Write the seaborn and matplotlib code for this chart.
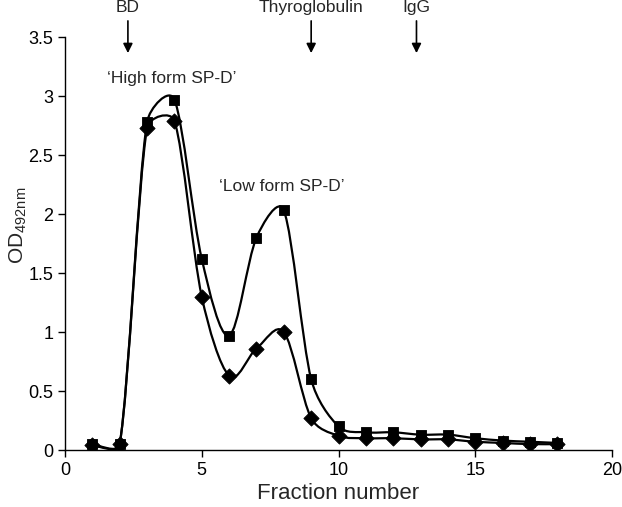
import numpy as np
import pandas as pd
import matplotlib
matplotlib.use('Agg')
import matplotlib.pyplot as plt
import seaborn as sns
from matplotlib.path import Path
from matplotlib.patches import PathPatch

# Fractions and OD readings
fractions = [1, 2, 3, 4, 5, 6, 7, 8, 9, 10, 11, 12, 13, 14, 15, 16, 17, 18]
od_square = [0.05, 0.05, 2.78, 2.97, 1.62, 0.97, 1.80, 2.03, 0.60, 0.20,
             0.15, 0.15, 0.13, 0.13, 0.10, 0.08, 0.07, 0.06]
od_diamond = [0.04, 0.05, 2.73, 2.79, 1.30, 0.63, 0.86, 1.00, 0.27, 0.12,
              0.10, 0.10, 0.09, 0.09, 0.07, 0.06, 0.05, 0.05]

# Size markers (fraction positions)
marker_names = ['BD', 'Thyroglobulin', 'IgG']
marker_pos = [2.3, 9.0, 12.85]

sns.set_style('ticks')
plt.rcParams['font.family'] = ['Liberation Sans', 'DejaVu Sans']
plt.rcParams['mathtext.default'] = 'regular'

fig = plt.figure(figsize=(6.22, 5.07), dpi=100)
ax = fig.add_axes([0.1045, 0.1124, 0.8795, 0.8146])
ax.set_xlim(0, 20)
ax.set_ylim(0, 3.5)


def smooth_path(xs, ys):
    # excel-like smoothed line: catmull-rom arms in screen space,
    # capped so steep steps don't overshoot much
    pts = ax.transData.transform(np.column_stack([xs, ys]).astype(float))
    n = len(pts)

    def tangent(i):
        a = pts[i - 1] if i > 0 else pts[i]
        b = pts[i + 1] if i < n - 1 else pts[i]
        return b - a

    verts = [pts[0]]
    codes = [Path.MOVETO]
    for i in range(n - 1):
        seg = np.hypot(*(pts[i + 1] - pts[i]))
        t1, t2 = tangent(i), tangent(i + 1)
        l1, l2 = np.hypot(*t1), np.hypot(*t2)
        c1 = pts[i] + t1 / l1 * min(l1 / 6, seg / 2.5)
        c2 = pts[i + 1] - t2 / l2 * min(l2 / 6, seg / 2.5)
        verts += [c1, c2, pts[i + 1]]
        codes += [Path.CURVE4] * 3
    verts = ax.transData.inverted().transform(np.array(verts))
    return Path(verts, codes)


for ys in [od_square, od_diamond]:
    ax.add_patch(PathPatch(smooth_path(fractions, ys), facecolor='none',
                           edgecolor='black', lw=1.6, zorder=2))

df = pd.DataFrame({'fraction': fractions, 'square': od_square, 'diamond': od_diamond})
sns.scatterplot(data=df, x='fraction', y='square', marker='s', s=60,
                color='black', edgecolor='black', ax=ax, zorder=3)
sns.scatterplot(data=df, x='fraction', y='diamond', marker='D', s=60,
                color='black', edgecolor='black', ax=ax, zorder=4)

ax.set_xlim(0, 20)
ax.set_ylim(0, 3.5)
ax.set_xticks([0, 5, 10, 15, 20])
ax.set_yticks([0, 0.5, 1, 1.5, 2, 2.5, 3, 3.5])
ax.set_yticklabels(['0', '0.5', '1', '1.5', '2', '2.5', '3', '3.5'])
ax.tick_params(labelsize=13, length=5, width=1, color='black', labelcolor='black')
sns.despine(ax=ax)
for sp in ['left', 'bottom']:
    ax.spines[sp].set_linewidth(1)
    ax.spines[sp].set_color('black')

ax.set_xlabel('Fraction number', fontsize=16, labelpad=3)
ax.set_ylabel('OD$_{492nm}$', fontsize=15)
ax.yaxis.set_label_coords(-0.066, 0.545)

for name, xp in zip(marker_names, marker_pos):
    ax.annotate('', xy=(xp, 3.34), xytext=(xp, 3.66), annotation_clip=False,
                arrowprops=dict(arrowstyle='-|>', color='black', lw=1.2,
                                mutation_scale=14))
    ax.text(xp, 3.69, name, ha='center', va='bottom', fontsize=12.5, clip_on=False)

ax.text(3.9, 3.15, '\u2018High form SP-D\u2019', ha='center', va='center', fontsize=12.5)
ax.text(7.93, 2.23, '\u2018Low form SP-D\u2019', ha='center', va='center', fontsize=12.5)

fig.savefig('out.png', dpi=100)
